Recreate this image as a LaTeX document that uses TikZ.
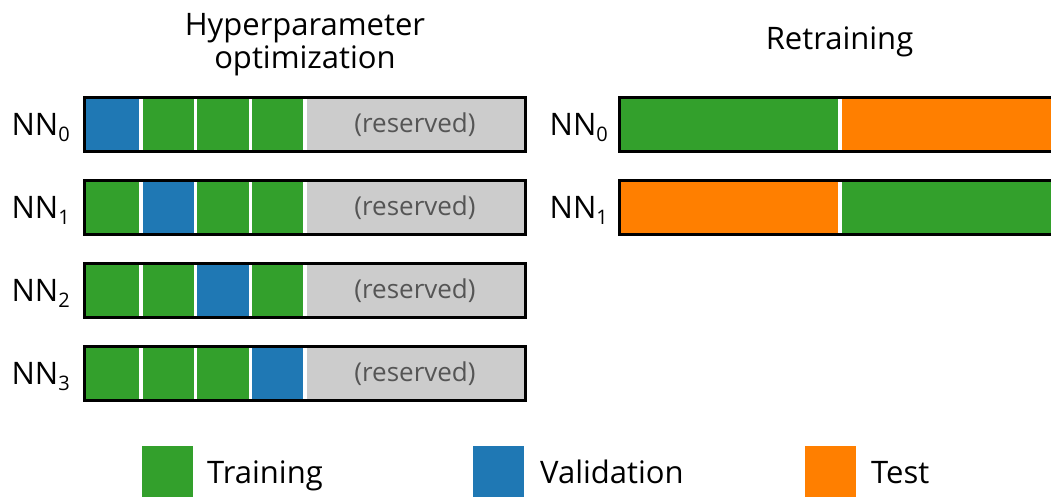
\documentclass[tikz,border=0pt]{standalone}
\usepackage{fontspec}
\setmainfont{Open Sans}
\definecolor{trn}{HTML}{33A02C}
\definecolor{val}{HTML}{1F78B4}
\definecolor{tst}{HTML}{FF7F00}
\definecolor{resv}{HTML}{CCCCCC}
\definecolor{restext}{HTML}{555555}
\newcommand{\nnlabel}[1]{NN\raisebox{-6pt}{\fontsize{20}{20}\selectfont #1}}
\tikzset{
  lbl/.style={inner sep=0pt, font=\fontsize{31}{31}\selectfont, text=black},
  restxt/.style={inner sep=0pt, font=\fontsize{26}{26}\selectfont, text=restext},
  sep/.style={white, line width=3.5pt},
  barframe/.style={draw=black, line width=3pt}
}
\begin{document}
\begin{tikzpicture}[x=1pt,y=-1pt]
\useasboundingbox (0,0) rectangle (1051,498);
\clip (0,0) rectangle (1051,498);
% titles
\node[lbl, anchor=base] (t1) at (305,35) {Hyperparameter};
\node[lbl, anchor=base] (t2) at (305,68) {optimization};
\node[lbl, anchor=base] (t3) at (839.5,49) {Retraining};
% left bars
\foreach \r in {0,...,3} {
  \pgfmathsetmacro\yc{124.5+83*\r}
  \fill[resv] (305,\yc-27) rectangle (525.5,\yc+27);
  \foreach \k in {0,...,3} {
    \pgfmathsetmacro\xa{86+54.75*\k}
    \pgfmathsetmacro\xb{86+54.75*(\k+1)}
    \ifnum\k=\r \def\cc{val}\else\def\cc{trn}\fi
    \fill[\cc] (\xa,\yc-27) rectangle (\xb,\yc+27);
  }
  \foreach \k in {1,...,4} {
    \pgfmathsetmacro\xs{86+54.75*\k}
    \draw[sep] (\xs,\yc-26) -- (\xs,\yc+26);
  }
  \draw[barframe] (84.5,\yc-27) rectangle (525.5,\yc+27);
  \node[restxt, anchor=base] (res\r) at (415,\yc+8) {(reserved)};
  \node[lbl, anchor=base east] (nl\r) at (70,\yc+10.5) {\nnlabel{\r}};
}
% right bars
\foreach \r/\ca/\cb in {0/trn/tst,1/tst/trn} {
  \pgfmathsetmacro\yc{124.5+83*\r}
  \fill[\ca] (619.5,\yc-27) rectangle (840,\yc+27);
  \fill[\cb] (840,\yc-27) rectangle (1059.5,\yc+27);
  \draw[sep] (840,\yc-26) -- (840,\yc+26);
  \draw[barframe] (619.5,\yc-27) rectangle (1059.5,\yc+27);
  \node[lbl, anchor=base east] (nr\r) at (608,\yc+10.5) {\nnlabel{\r}};
}
% legend
\fill[trn] (142,446) rectangle (193,497);
\node[lbl, anchor=base west] (lg1) at (207,483) {Training};
\fill[val] (473,446) rectangle (524,497);
\node[lbl, anchor=base west] (lg2) at (540,483) {Validation};
\fill[tst] (805,446) rectangle (856,497);
\node[lbl, anchor=base west] (lg3) at (871,483) {Test};
\end{tikzpicture}
\end{document}
